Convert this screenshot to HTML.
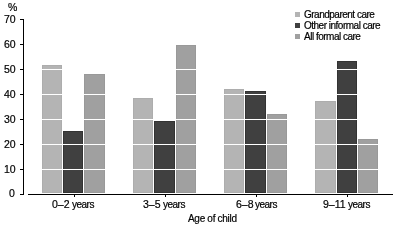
<!DOCTYPE html>
<html><head><meta charset="utf-8"><style>
html,body{margin:0;padding:0;background:#fff;width:397px;height:227px;overflow:hidden;position:relative}
div,span{position:absolute;box-sizing:border-box}
span{font-family:"Liberation Sans",sans-serif;color:#000;white-space:nowrap;line-height:12px;-webkit-font-smoothing:antialiased;will-change:transform;-webkit-text-stroke:0.2px #000}
.tk{font-size:10.5px}
.pc{font-size:10.5px}
.lg{font-size:10px;letter-spacing:-0.5px}
.xl{font-size:10px;letter-spacing:-0.3px}
.xd{font-size:10.5px}
.xw{font-size:10px;letter-spacing:-0.5px}
</style></head><body>
<div style="left:42px;top:65px;width:20px;height:128px;background:#b4b4b4;box-shadow:inset 0 0 0 1px #adadad"></div>
<div style="left:63px;top:131px;width:20px;height:62px;background:#404040;box-shadow:inset 0 0 0 1px #333333"></div>
<div style="left:84px;top:74px;width:21px;height:119px;background:#a0a0a0;box-shadow:inset 0 0 0 1px #999999"></div>
<div style="left:133px;top:98px;width:20px;height:95px;background:#b4b4b4;box-shadow:inset 0 0 0 1px #adadad"></div>
<div style="left:154px;top:121px;width:21px;height:72px;background:#404040;box-shadow:inset 0 0 0 1px #333333"></div>
<div style="left:176px;top:45px;width:20px;height:148px;background:#a0a0a0;box-shadow:inset 0 0 0 1px #999999"></div>
<div style="left:224px;top:89px;width:20px;height:104px;background:#b4b4b4;box-shadow:inset 0 0 0 1px #adadad"></div>
<div style="left:245px;top:91px;width:21px;height:102px;background:#404040;box-shadow:inset 0 0 0 1px #333333"></div>
<div style="left:267px;top:114px;width:20px;height:79px;background:#a0a0a0;box-shadow:inset 0 0 0 1px #999999"></div>
<div style="left:315px;top:101px;width:21px;height:92px;background:#b4b4b4;box-shadow:inset 0 0 0 1px #adadad"></div>
<div style="left:337px;top:61px;width:20px;height:132px;background:#404040;box-shadow:inset 0 0 0 1px #333333"></div>
<div style="left:358px;top:139px;width:20px;height:54px;background:#a0a0a0;box-shadow:inset 0 0 0 1px #999999"></div>
<div style="left:28px;top:169px;width:365px;height:1px;background:#fff;"></div>
<div style="left:28px;top:144px;width:365px;height:1px;background:#fff;"></div>
<div style="left:28px;top:119px;width:365px;height:1px;background:#fff;"></div>
<div style="left:28px;top:94px;width:365px;height:1px;background:#fff;"></div>
<div style="left:28px;top:69px;width:365px;height:1px;background:#fff;"></div>
<div style="left:28px;top:44px;width:365px;height:1px;background:#fff;"></div>
<div style="left:28px;top:19px;width:365px;height:1px;background:#fff;"></div>
<div style="left:23px;top:19px;width:1px;height:176px;background:#000;"></div>
<div style="left:28px;top:194px;width:365px;height:1px;background:#000;"></div>
<div style="left:20px;top:194px;width:3px;height:1px;background:#000;"></div>
<div style="left:20px;top:169px;width:3px;height:1px;background:#000;"></div>
<div style="left:20px;top:144px;width:3px;height:1px;background:#000;"></div>
<div style="left:20px;top:119px;width:3px;height:1px;background:#000;"></div>
<div style="left:20px;top:94px;width:3px;height:1px;background:#000;"></div>
<div style="left:20px;top:69px;width:3px;height:1px;background:#000;"></div>
<div style="left:20px;top:44px;width:3px;height:1px;background:#000;"></div>
<div style="left:20px;top:19px;width:3px;height:1px;background:#000;"></div>
<div style="left:74px;top:195px;width:1px;height:2px;background:#000;"></div>
<div style="left:165px;top:195px;width:1px;height:2px;background:#000;"></div>
<div style="left:256px;top:195px;width:1px;height:2px;background:#000;"></div>
<div style="left:347px;top:195px;width:1px;height:2px;background:#000;"></div>
<div style="left:295px;top:12px;width:5px;height:5px;background:#b4b4b4;"></div>
<div style="left:295px;top:23px;width:5px;height:5px;background:#404040;"></div>
<div style="left:295px;top:34px;width:5px;height:5px;background:#a0a0a0;"></div>
<span id="pct" class="pc" style="left:8px;top:1px">%</span>
<span id="y0" class="tk" style="right:382px;top:187px">0</span>
<span id="y1" class="tk" style="right:381px;top:163px">10</span>
<span id="y2" class="tk" style="right:381px;top:138px">20</span>
<span id="y3" class="tk" style="right:381px;top:113px">30</span>
<span id="y4" class="tk" style="right:381px;top:88px">40</span>
<span id="y5" class="tk" style="right:381px;top:63px">50</span>
<span id="y6" class="tk" style="right:381px;top:38px">60</span>
<span id="y7" class="tk" style="right:381px;top:13px">70</span>
<span id="l0" class="lg" style="left:304px;top:9px">Grandparent care</span>
<span id="l1" class="lg" style="left:304px;top:20px">Other informal care</span>
<span id="l2" class="lg" style="left:304px;top:31px">All formal care</span>
<span id="d0" class="xd" style="left:52px;top:198px">0–2</span>
<span id="w0" class="xw" style="left:72px;top:199px">years</span>
<span id="d1" class="xd" style="left:143px;top:198px">3–5</span>
<span id="w1" class="xw" style="left:163px;top:199px">years</span>
<span id="d2" class="xd" style="left:236px;top:198px">6–8</span>
<span id="w2" class="xw" style="left:255px;top:199px">years</span>
<span id="d3" class="xd" style="left:323px;top:198px">9–11</span>
<span id="w3" class="xw" style="left:348px;top:199px">years</span>
<span id="xt" class="xl" style="left:188px;top:213px">Age of child</span>
</body></html>
